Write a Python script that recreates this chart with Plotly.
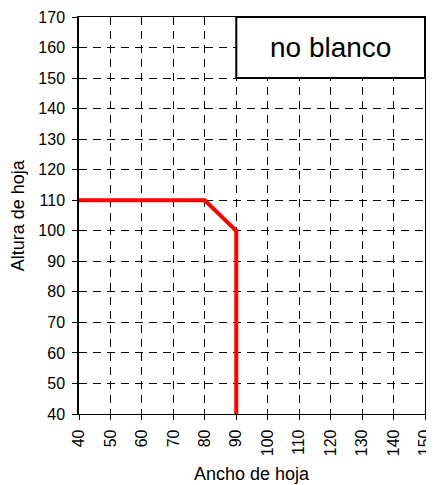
import plotly.graph_objects as go

ancho = [40, 80, 90, 90]
altura = [110, 110, 100, 40]
x_ticks = list(range(40, 151, 10))
y_ticks = list(range(40, 171, 10))
label_text = "no blanco"
x_title = "Ancho de hoja"
y_title = "Altura de hoja"

FONT = "Liberation Sans, Arial, sans-serif"

fig = go.Figure()
fig.add_trace(go.Scatter(x=ancho, y=altura, mode="lines",
                         line=dict(color="#ff0000", width=4), showlegend=False))

fig.add_shape(type="rect", x0=90, x1=150, y0=150, y1=170, xref="x", yref="y",
              line=dict(color="black", width=2), fillcolor="white", layer="above")
fig.add_annotation(x=120, y=160, xref="x", yref="y", text=label_text, showarrow=False,
                   font=dict(size=28, color="black", family=FONT))

fig.add_annotation(x=0.5, y=-0.152, xref="paper", yref="paper", text=x_title,
                   showarrow=False, xanchor="center", yanchor="middle",
                   font=dict(size=18, color="black", family=FONT))
fig.add_annotation(x=-0.177, y=0.5, xref="paper", yref="paper", text=y_title,
                   showarrow=False, xanchor="center", yanchor="middle", textangle=-90,
                   font=dict(size=18, color="black", family=FONT))

axis_common = dict(showgrid=True, gridcolor="black", gridwidth=1, griddash="8px,6px",
                   showline=True, linecolor="black", mirror=True,
                   ticks="outside", ticklen=5, tickcolor="black", zeroline=False,
                   automargin=False, ticklabeloverflow="allow",
                   tickfont=dict(size=16, color="black", family=FONT))

fig.update_xaxes(range=[40, 150], tickvals=x_ticks, tickangle=-90, linewidth=1.2,
                 ticklabelstandoff=3, **axis_common)
fig.update_yaxes(range=[40, 170], tickvals=y_ticks, linewidth=1.5,
                 ticklabelstandoff=4, **axis_common)

# page body adds an 8px offset; size the figure so the visible result fills 434x485
fig.update_layout(width=426, height=477, margin=dict(l=71, r=9, t=9, b=71),
                  plot_bgcolor="white", paper_bgcolor="white",
                  font=dict(family=FONT, color="black"))

fig.write_html("out.html")
